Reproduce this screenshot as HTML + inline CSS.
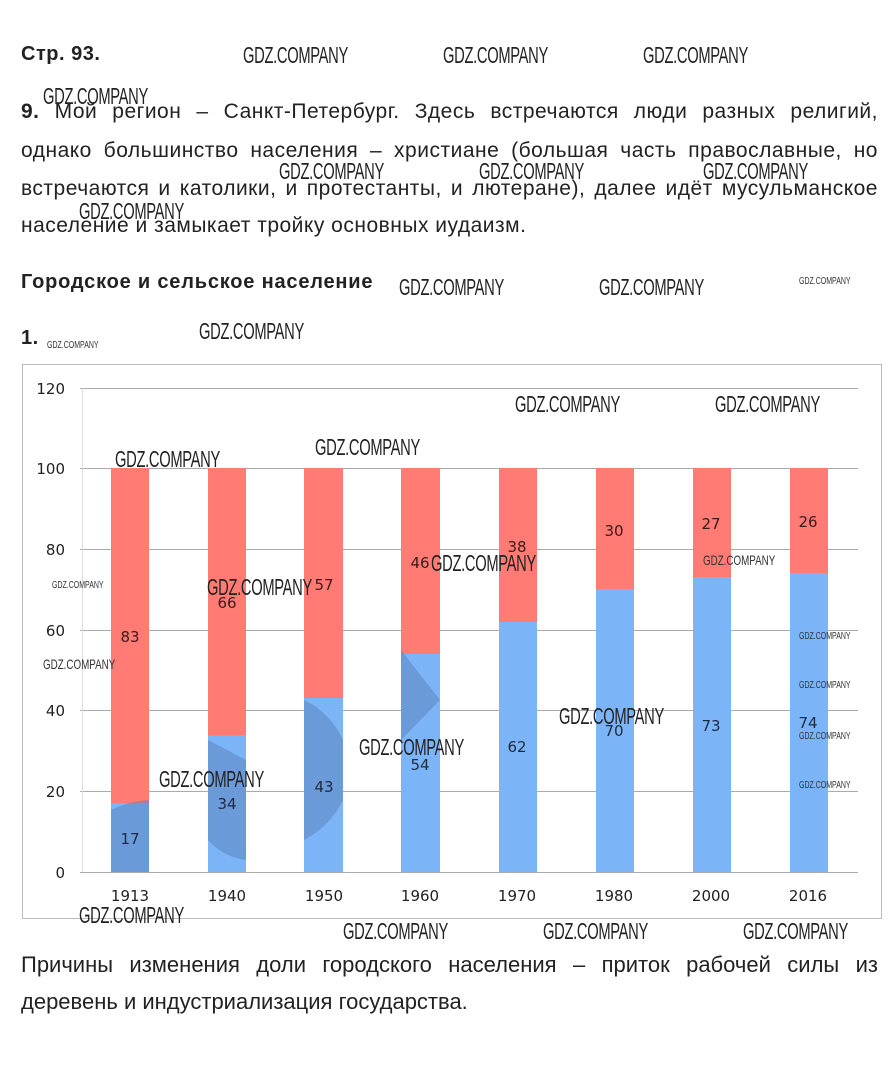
<!DOCTYPE html>
<html><head><meta charset="utf-8"><style>
body{margin:0;width:895px;height:1087px;background:#fff;position:relative;overflow:hidden;font-family:"Liberation Sans",sans-serif;color:#222}
.l{position:absolute;left:21px;width:857px;font-size:21px;letter-spacing:0.5px;text-align:justify;text-align-last:justify;white-space:nowrap}
.n{text-align-last:left}
.b{font-size:22px;letter-spacing:0}
.w{position:absolute;font-family:"Liberation Sans",sans-serif;font-size:23px;color:#222;transform:scaleX(0.64);transform-origin:0 0;white-space:nowrap;letter-spacing:-0.5px}
.s{position:absolute;font-size:10px;color:#333;transform:scaleX(0.7);transform-origin:0 0;white-space:nowrap}
</style></head><body>
<div class="l n" style="top:43px;font-size:20px"><b>Стр. 93.</b></div>
<div class="l" style="top:100px"><b>9.</b> Мой регион – Санкт-Петербург. Здесь встречаются люди разных религий,</div>
<div class="l" style="top:139px">однако большинство населения – христиане (большая часть православные, но</div>
<div class="l" style="top:177px">встречаются и католики, и протестанты, и лютеране), далее идёт мусульманское</div>
<div class="l n" style="top:214px">население и замыкает тройку основных иудаизм.</div>
<div class="l n" style="top:271px;font-size:20px;letter-spacing:0.8px"><b>Городское и сельское население</b></div>
<div class="l n" style="top:327px;font-size:20px"><b>1.</b></div>
<svg style="position:absolute;left:0;top:0" width="895" height="1087">
<rect x="22.5" y="364.5" width="859" height="554" fill="none" stroke="#bbb"/>
<g stroke="#aaa" stroke-width="1">
<line x1="80" x2="858" y1="388.5" y2="388.5"/><line x1="80" x2="858" y1="468.5" y2="468.5"/>
<line x1="80" x2="858" y1="549.5" y2="549.5"/><line x1="80" x2="858" y1="630.5" y2="630.5"/>
<line x1="80" x2="858" y1="710.5" y2="710.5"/><line x1="80" x2="858" y1="791.5" y2="791.5"/>
<line x1="80" x2="858" y1="872.5" y2="872.5"/>
</g>
<line x1="82.5" x2="82.5" y1="388" y2="872" stroke="#ddd"/>
<g font-family="DejaVu Sans,sans-serif" font-size="15" fill="#222" text-anchor="end">
<text x="65" y="394">120</text><text x="65" y="474">100</text><text x="65" y="555">80</text><text x="65" y="636">60</text><text x="65" y="716">40</text><text x="65" y="797">20</text><text x="65" y="878">0</text>
</g>
<g font-family="DejaVu Sans,sans-serif" font-size="15" fill="#222" text-anchor="middle">
<text x="130" y="901">1913</text><text x="227" y="901">1940</text><text x="324" y="901">1950</text><text x="420" y="901">1960</text><text x="517" y="901">1970</text><text x="614" y="901">1980</text><text x="711" y="901">2000</text><text x="808" y="901">2016</text>
</g>
<g font-family="DejaVu Sans,sans-serif" font-size="15" fill="#1e2a40" text-anchor="middle">
<rect x="111" y="468" width="38" height="336" fill="#ff7b73"/><rect x="111" y="803" width="38" height="69" fill="#7cb4f8"/>
<rect x="208" y="468" width="38" height="268" fill="#ff7b73"/><rect x="208" y="735" width="38" height="137" fill="#7cb4f8"/>
<rect x="304" y="468" width="39" height="231" fill="#ff7b73"/><rect x="304" y="698" width="39" height="174" fill="#7cb4f8"/>
<rect x="401" y="468" width="39" height="187" fill="#ff7b73"/><rect x="401" y="654" width="39" height="218" fill="#7cb4f8"/>
<rect x="499" y="468" width="38" height="155" fill="#ff7b73"/><rect x="499" y="622" width="38" height="250" fill="#7cb4f8"/>
<rect x="596" y="468" width="38" height="123" fill="#ff7b73"/><rect x="596" y="589" width="38" height="283" fill="#7cb4f8"/>
<rect x="693" y="468" width="38" height="110" fill="#ff7b73"/><rect x="693" y="577" width="38" height="295" fill="#7cb4f8"/>
<rect x="790" y="468" width="38" height="106" fill="#ff7b73"/><rect x="790" y="573" width="38" height="299" fill="#7cb4f8"/>
<path d="M111 810 A100 100 0 0 1 149 800 L149 872 L111 872Z" fill="#5a7fb8" opacity=".5"/>
<path d="M208 740 L246 760 L246 860 A60 60 0 0 1 208 840Z" fill="#5a7fb8" opacity=".5"/>
<path d="M304 700 A80 80 0 0 1 343 740 L343 800 A90 90 0 0 1 304 840Z" fill="#5a7fb8" opacity=".5"/>
<path d="M401 650 L440 700 L401 740Z" fill="#5a7fb8" opacity=".5"/>
<g fill="#3a1a1a"><text x="130" y="642">83</text><text x="227" y="608">66</text><text x="324" y="590">57</text><text x="420" y="568">46</text><text x="517" y="552">38</text><text x="614" y="536">30</text><text x="711" y="529">27</text><text x="808" y="527">26</text></g>
<text x="130" y="844">17</text><text x="227" y="809">34</text><text x="324" y="792">43</text><text x="420" y="770">54</text><text x="517" y="752">62</text><text x="614" y="736">70</text><text x="711" y="731">73</text><text x="808" y="728">74</text>
</g>
</svg>
<div class="w" style="left:243px;top:42px">GDZ.COMPANY</div>
<div class="w" style="left:443px;top:42px">GDZ.COMPANY</div>
<div class="w" style="left:643px;top:42px">GDZ.COMPANY</div>
<div class="w" style="left:43px;top:83px">GDZ.COMPANY</div>
<div class="w" style="left:279px;top:158px">GDZ.COMPANY</div>
<div class="w" style="left:479px;top:158px">GDZ.COMPANY</div>
<div class="w" style="left:703px;top:158px">GDZ.COMPANY</div>
<div class="w" style="left:79px;top:198px">GDZ.COMPANY</div>
<div class="w" style="left:399px;top:274px">GDZ.COMPANY</div>
<div class="w" style="left:599px;top:274px">GDZ.COMPANY</div>
<div class="w" style="left:199px;top:318px">GDZ.COMPANY</div>
<div class="w" style="left:515px;top:391px">GDZ.COMPANY</div>
<div class="w" style="left:715px;top:391px">GDZ.COMPANY</div>
<div class="w" style="left:315px;top:434px">GDZ.COMPANY</div>
<div class="w" style="left:115px;top:446px">GDZ.COMPANY</div>
<div class="w" style="left:431px;top:550px">GDZ.COMPANY</div>
<div class="w" style="left:207px;top:574px">GDZ.COMPANY</div>
<div class="w" style="left:559px;top:703px">GDZ.COMPANY</div>
<div class="w" style="left:359px;top:734px">GDZ.COMPANY</div>
<div class="w" style="left:159px;top:766px">GDZ.COMPANY</div>
<div class="w" style="left:79px;top:902px">GDZ.COMPANY</div>
<div class="w" style="left:343px;top:918px">GDZ.COMPANY</div>
<div class="w" style="left:543px;top:918px">GDZ.COMPANY</div>
<div class="w" style="left:743px;top:918px">GDZ.COMPANY</div>
<div class="s" style="left:799px;top:276px">GDZ.COMPANY</div>
<div class="s" style="left:47px;top:340px">GDZ.COMPANY</div>
<div class="s" style="left:52px;top:580px">GDZ.COMPANY</div>
<div class="s" style="left:43px;top:656px;font-size:14px">GDZ.COMPANY</div>
<div class="s" style="left:703px;top:552px;font-size:14px">GDZ.COMPANY</div>
<div class="s" style="left:799px;top:631px">GDZ.COMPANY</div>
<div class="s" style="left:799px;top:680px">GDZ.COMPANY</div>
<div class="s" style="left:799px;top:731px">GDZ.COMPANY</div>
<div class="s" style="left:799px;top:780px">GDZ.COMPANY</div>
<div class="l b" style="top:952px">Причины изменения доли городского населения – приток рабочей силы из</div>
<div class="l n b" style="top:989px">деревень и индустриализация государства.</div>
</body></html>
